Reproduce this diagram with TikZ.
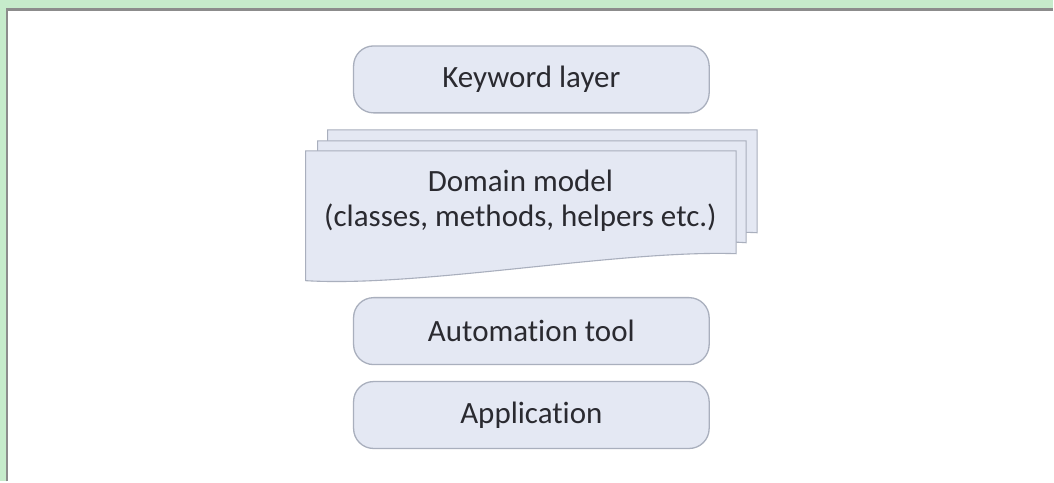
\documentclass[tikz,border=0pt]{standalone}
\usepackage{fontspec}
\setmainfont{Carlito}[Ligatures=NoCommon]
\definecolor{pagegreen}{HTML}{C6EBCB}
\definecolor{frameline}{HTML}{8C8C8C}
\definecolor{boxfill}{HTML}{E4E8F3}
\definecolor{boxline}{HTML}{A9AFBD}
\definecolor{inktext}{HTML}{2A2A30}
\begin{document}
\begin{tikzpicture}[x=1pt,y=-1pt,
  layerbox/.style={draw=boxline, line width=1.3pt, fill=boxfill, rounded corners=20pt,
    minimum width=356pt, minimum height=67pt, inner sep=0pt,
    text=inktext, font=\fontsize{31}{36}\selectfont},
  sheet/.style={draw=boxline, line width=1.1pt, fill=boxfill}]
  % page background and white panel with its frame
  \fill[pagegreen] (0,0) rectangle (1054,482);
  \fill[white] (7,9.5) rectangle (1054,482);
  \draw[frameline, line width=2.5pt] (7,482) -- (7,9.5) -- (1054,9.5);
  \useasboundingbox (0,0) rectangle (1054,482);

  % layer boxes
  \node[layerbox] (kw)  at (532,79.5)  {Keyword layer};
  \node[layerbox] (at)  at (532,331.5) {Automation tool};
  \node[layerbox] (app) at (532,415.5) {Application};

  % stacked document sheets for the domain model
  \draw[sheet] (328,235) -- (328,130) -- (758,130) -- (758,233)
    .. controls (650,228) and (420,250) .. (328,235) -- cycle;
  \draw[sheet] (318,245) -- (318,141) -- (747,141) -- (747,243)
    .. controls (640,236) and (410,262) .. (318,245) -- cycle;
  \draw[sheet] (306,281) -- (306,151) -- (737,151) -- (737,254)
    .. controls (620,250) and (420,288) .. (306,281) -- cycle;
  \node[text=inktext, font=\fontsize{31}{35}\selectfont, align=center] (dm) at (521,201)
    {Domain model\\(classes, methods, helpers etc.)};
\end{tikzpicture}
\end{document}
